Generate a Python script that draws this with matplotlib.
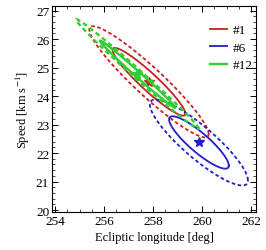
import numpy as np
import matplotlib
matplotlib.use("Agg")
import matplotlib.pyplot as plt
from matplotlib.ticker import MultipleLocator

plt.rcParams['font.family'] = ['Liberation Serif', 'DejaVu Serif']
plt.rcParams['mathtext.fontset'] = 'stix'

# event parameters: centre, sigma in longitude, sigma in speed, correlation
labels = ['#1', '#6', '#12']
colors = ['#cc1f1f', '#1f1fcc', '#33cc33']
lon0 = [257.83, 259.87, 257.36]
spd0 = [24.5, 22.37, 24.77]
sig_lon = [0.98, 0.805, 1.01]
sig_spd = [0.785, 0.607, 0.775]
rho = [-0.94, -0.88, -0.994]

# 68% and 95% levels for a 2D gaussian
k_solid = np.sqrt(-2 * np.log(1 - 0.6827))
k_dash = np.sqrt(-2 * np.log(1 - 0.9545))

t = np.linspace(0, 2 * np.pi, 300)

fig = plt.figure(figsize=(2.66, 2.51), dpi=100)
ax = fig.add_axes([52 / 266, 1 - 213 / 251, 204 / 266, 206 / 251])

for i in range(len(labels)):
    cov = np.array([[sig_lon[i]**2, rho[i]*sig_lon[i]*sig_spd[i]],
                    [rho[i]*sig_lon[i]*sig_spd[i], sig_spd[i]**2]])
    L = np.linalg.cholesky(cov)
    circ = np.vstack([np.cos(t), np.sin(t)])
    lw = 1.7 if i == 2 else 1.3
    for k, ls in [(k_dash, (0, (2, 1.4))), (k_solid, '-')]:
        pts = k * (L @ circ)
        ax.plot(lon0[i] + pts[0], spd0[i] + pts[1], color=colors[i], lw=lw,
                linestyle=ls, label=labels[i] if ls == '-' else None)
    ax.plot(lon0[i], spd0[i], marker='*', color=colors[i], ms=7, mec=colors[i])

ax.set_xlim(253.87, 262.2)
ax.set_ylim(19.93, 27.16)
ax.xaxis.set_major_locator(MultipleLocator(2))
ax.xaxis.set_minor_locator(MultipleLocator(0.5))
ax.yaxis.set_major_locator(MultipleLocator(1))
ax.yaxis.set_minor_locator(MultipleLocator(0.2))
ax.tick_params(which='both', direction='in', top=True, right=True, labelsize=9.5, pad=2)
ax.tick_params(which='major', length=4, width=0.7)
ax.tick_params(which='minor', length=2, width=0.5)
for s in ax.spines.values():
    s.set_linewidth(0.8)
ax.set_xlabel('Ecliptic longitude [deg]', fontsize=9, labelpad=3)
ax.set_ylabel('Speed [km s$^{-1}$]', fontsize=9, labelpad=3)
ax.legend(loc='upper right', frameon=False, fontsize=9.5, handlelength=1.3,
          handletextpad=0.4, bbox_to_anchor=(1.04, 0.97), labelspacing=0.4)

fig.savefig('out.png', dpi=100)
